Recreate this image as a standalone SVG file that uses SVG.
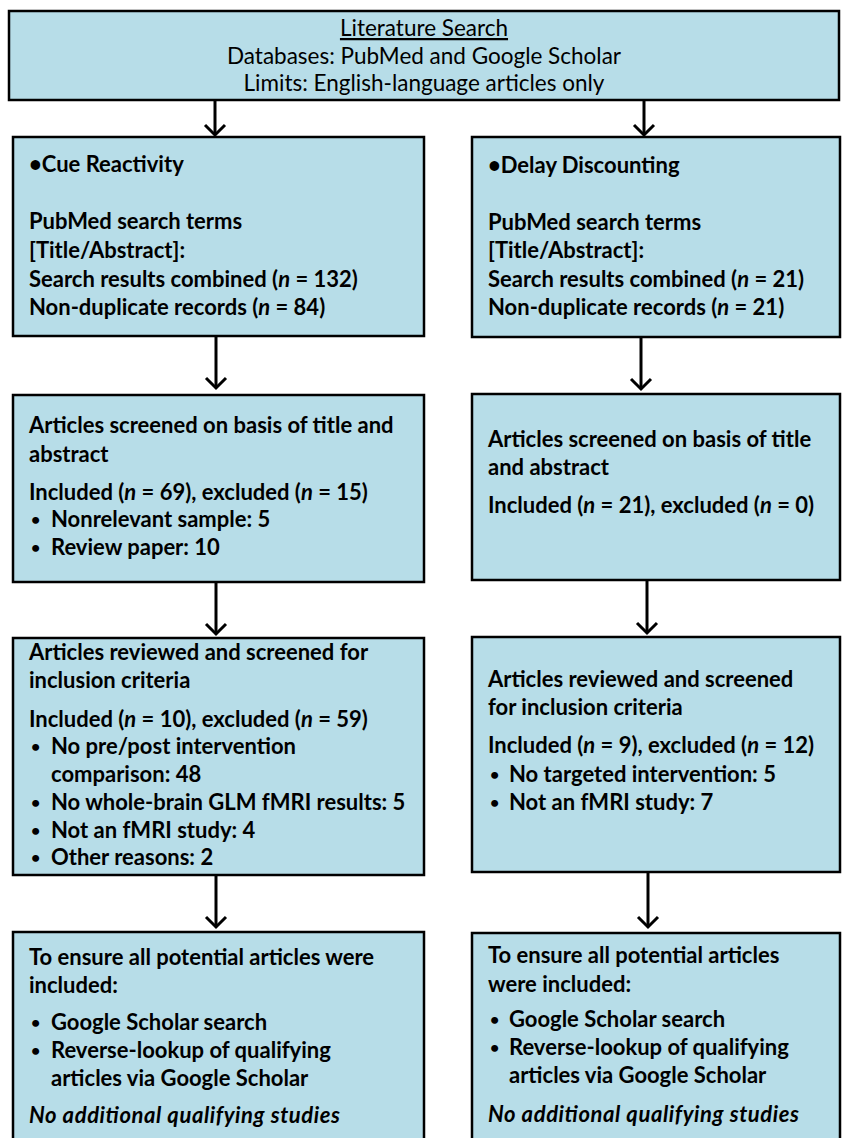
<svg xmlns="http://www.w3.org/2000/svg" width="844" height="1138" viewBox="0 0 844 1138">
<style>
.box{fill:#b7dde8;stroke:#000;stroke-width:2.5}
.t{font-family:Lato,"Liberation Sans",sans-serif;font-size:22px;font-weight:bold;fill:#000}
.b{font-family:Lato,"Liberation Sans",sans-serif;font-size:16px;font-weight:bold;fill:#000}
.h{font-family:Lato,"Liberation Sans",sans-serif;font-size:22.5px;font-weight:normal;fill:#000;text-anchor:middle}
.i{font-style:italic}
.c{stroke:#000;stroke-width:3;fill:none}
</style>
<defs>
<marker id="arr" markerUnits="userSpaceOnUse" markerWidth="24" markerHeight="20" viewBox="-12 -16 24 20" refX="0" refY="0" orient="auto-start-reverse" overflow="visible">
<path d="M -10 -10 L 0 0 L 10 -10" transform="rotate(-90)" stroke="#000" stroke-width="3" fill="none"/>
</marker>
</defs>
<rect width="844" height="1138" fill="#fff"/>
<g id="connectors">
<line class="c" x1="215" y1="100" x2="215" y2="135" marker-end="url(#arr)"/>
<line class="c" x1="644" y1="100" x2="644" y2="135" marker-end="url(#arr)"/>
<line class="c" x1="216" y1="336" x2="216" y2="388" marker-end="url(#arr)"/>
<line class="c" x1="641" y1="337" x2="641" y2="389" marker-end="url(#arr)"/>
<line class="c" x1="216" y1="582" x2="216" y2="634" marker-end="url(#arr)"/>
<line class="c" x1="647" y1="580" x2="647" y2="633" marker-end="url(#arr)"/>
<line class="c" x1="216" y1="875" x2="216" y2="927" marker-end="url(#arr)"/>
<line class="c" x1="648" y1="872" x2="648" y2="927" marker-end="url(#arr)"/>
</g>
<g id="top">
<rect class="box" x="9" y="11" width="830" height="89"/>
<text class="h" x="424" y="36" text-decoration="underline">Literature Search</text>
<text class="h" x="424" y="64">Databases: PubMed and Google Scholar</text>
<text class="h" x="424" y="91">Limits: English-language articles only</text>
</g>
<g id="cue1">
<rect class="box" x="13" y="137" width="411" height="199"/>
<text class="t" x="29" y="172">•Cue Reactivity</text>
<text class="t" x="29" y="229">PubMed search terms</text>
<text class="t" x="29" y="258">[Title/Abstract]:</text>
<text class="t" x="29" y="287">Search results combined (<tspan class="i">n</tspan> = 132)</text>
<text class="t" x="29" y="315">Non-duplicate records (<tspan class="i">n</tspan> = 84)</text>
</g>
<g id="dd1">
<rect class="box" x="472" y="137" width="368" height="200"/>
<text class="t" x="488" y="173">•Delay Discounting</text>
<text class="t" x="488" y="230">PubMed search terms</text>
<text class="t" x="488" y="258">[Title/Abstract]:</text>
<text class="t" x="488" y="287">Search results combined (<tspan class="i">n</tspan> = 21)</text>
<text class="t" x="488" y="315">Non-duplicate records (<tspan class="i">n</tspan> = 21)</text>
</g>
<g id="cue2">
<rect class="box" x="13" y="395" width="411" height="187"/>
<text class="t" x="29" y="433">Articles screened on basis of title and</text>
<text class="t" x="29" y="462">abstract</text>
<text class="t" x="29" y="500">Included (<tspan class="i">n</tspan> = 69), excluded (<tspan class="i">n</tspan> = 15)</text>
<text class="b" x="31" y="525">•</text><text class="t" x="51" y="527">Nonrelevant sample: 5</text>
<text class="b" x="31" y="553">•</text><text class="t" x="51" y="555">Review paper: 10</text>
</g>
<g id="dd2">
<rect class="box" x="472" y="394" width="368" height="186"/>
<text class="t" x="488" y="447">Articles screened on basis of title</text>
<text class="t" x="488" y="475">and abstract</text>
<text class="t" x="488" y="513">Included (<tspan class="i">n</tspan> = 21), excluded (<tspan class="i">n</tspan> = 0)</text>
</g>
<g id="cue3">
<rect class="box" x="13" y="638" width="411" height="237"/>
<text class="t" x="29" y="660">Articles reviewed and screened for</text>
<text class="t" x="29" y="688">inclusion criteria</text>
<text class="t" x="29" y="727">Included (<tspan class="i">n</tspan> = 10), excluded (<tspan class="i">n</tspan> = 59)</text>
<text class="b" x="31" y="752">•</text><text class="t" x="51" y="754">No pre/post intervention</text>
<text class="t" x="51" y="782">comparison: 48</text>
<text class="b" x="31" y="808">•</text><text class="t" x="51" y="810">No whole-brain GLM fMRI results: 5</text>
<text class="b" x="31" y="836">•</text><text class="t" x="51" y="838">Not an fMRI study: 4</text>
<text class="b" x="31" y="863">•</text><text class="t" x="51" y="865">Other reasons: 2</text>
</g>
<g id="dd3">
<rect class="box" x="472" y="637" width="368" height="235"/>
<text class="t" x="488" y="687">Articles reviewed and screened</text>
<text class="t" x="488" y="715">for inclusion criteria</text>
<text class="t" x="488" y="753">Included (<tspan class="i">n</tspan> = 9), excluded (<tspan class="i">n</tspan> = 12)</text>
<text class="b" x="490" y="780">•</text><text class="t" x="509" y="782">No targeted intervention: 5</text>
<text class="b" x="490" y="808">•</text><text class="t" x="509" y="810">Not an fMRI study: 7</text>
</g>
<g id="cue4">
<rect class="box" x="13" y="932" width="411" height="215"/>
<text class="t" x="29" y="965">To ensure all potential articles were</text>
<text class="t" x="29" y="993">included:</text>
<text class="b" x="31" y="1028">•</text><text class="t" x="51" y="1030">Google Scholar search</text>
<text class="b" x="31" y="1056">•</text><text class="t" x="51" y="1058">Reverse-lookup of qualifying</text>
<text class="t" x="51" y="1086">articles via Google Scholar</text>
<text class="t i" x="29" y="1123" textLength="311" lengthAdjust="spacing">No additional qualifying studies</text>
</g>
<g id="dd4">
<rect class="box" x="472" y="933" width="368" height="214"/>
<text class="t" x="488" y="963">To ensure all potential articles</text>
<text class="t" x="488" y="992">were included:</text>
<text class="b" x="490" y="1025">•</text><text class="t" x="509" y="1027">Google Scholar search</text>
<text class="b" x="490" y="1053">•</text><text class="t" x="509" y="1055">Reverse-lookup of qualifying</text>
<text class="t" x="509" y="1083">articles via Google Scholar</text>
<text class="t i" x="488" y="1122" textLength="311" lengthAdjust="spacing">No additional qualifying studies</text>
</g>
</svg>
